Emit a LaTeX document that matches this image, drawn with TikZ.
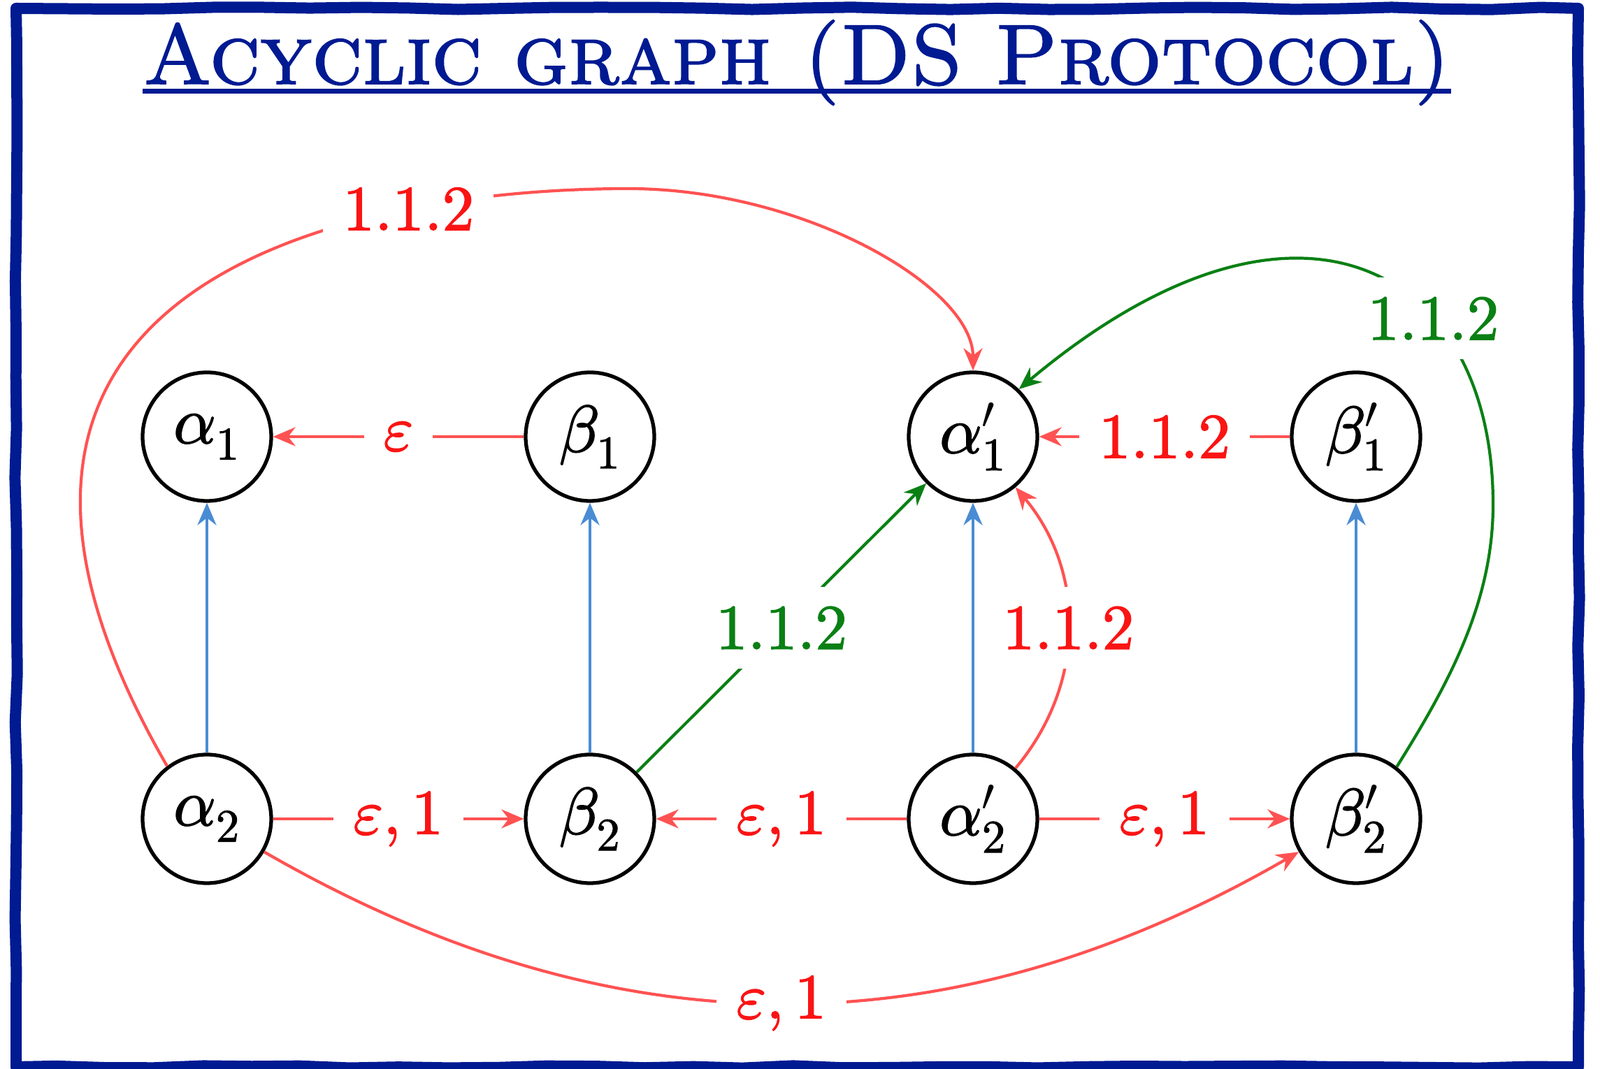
\RequirePackage{fix-cm}
\documentclass[tikz,border=0pt]{standalone}
\usepackage{unicode-math}
\setmathfont{latinmodern-math.otf}[FakeBold=1.6]
\DeclareSymbolFont{dscmsy}{OMS}{cmsy}{m}{n}
\DeclareMathSymbol{\dsprime}{\mathord}{dscmsy}{"30}
\newfontfamily\dstitlefont{lmromancaps10-regular.otf}[FakeBold=1.6]
\usetikzlibrary{
  arrows.meta,
  positioning,
  decorations.pathmorphing
}
\definecolor{dsTitle}{RGB}{0,26,146}
\definecolor{dsRed}{RGB}{255,82,82}
\definecolor{dsRedText}{RGB}{250,20,20}
\definecolor{dsBlue}{RGB}{74,140,212}
\definecolor{dsGreen}{RGB}{10,128,20}
\tikzset{
  dsnode/.style={
    circle,
    draw=black,
    line width=1.5pt,
    minimum size=18.4mm,
    inner sep=0pt,
    font=\fontsize{27}{30}\selectfont
  },
  dsedge/.style={
    -{Stealth[length=3.2mm,width=2.7mm]},
    line width=1.2pt
  },
  dsred/.style={dsedge, draw=dsRed},
  dsblue/.style={dsedge, draw=dsBlue},
  dsgreen/.style={dsedge, draw=dsGreen},
  dslabel/.style={
    fill=white,
    inner sep=8pt,
    font=\fontsize{26}{30}\selectfont
  },
  dsframe/.style={
    draw=dsTitle,
    line width=1.6mm,
    line join=round,
    decorate,
    decoration={random steps, segment length=20pt, amplitude=0.5pt}
  }
}

\begin{document}
\begin{tikzpicture}[node distance=5.47cm and 5.48cm, on grid]
  \useasboundingbox (0,0) rectangle (22.89,15.30);
  \draw[dsframe] (0.23,0.03) rectangle (22.58,15.18);

  \node[font=\dstitlefont\fontsize{34.6}{40}\selectfont, text=dsTitle, inner sep=0pt, anchor=base] (title)
    at (11.40,14.10) {Acyclic graph (DS Protocol)};
  \draw[dsTitle, line width=1.8pt] ([yshift=-3pt]title.base west) -- ([yshift=-3pt]title.base east);

  \node[dsnode] (a1) at (2.96,9.05) {$\alpha_1$};
  \node[dsnode, right=of a1] (b1) {$\beta_1$};
  \node[dsnode, right=of b1] (a1p) {$\alpha^{\dsprime}_1$};
  \node[dsnode, right=of a1p] (b1p) {$\beta^{\dsprime}_1$};
  \node[dsnode, below=of a1] (a2) {$\alpha_2$};
  \node[dsnode, right=of a2] (b2) {$\beta_2$};
  \node[dsnode, right=of b2] (a2p) {$\alpha^{\dsprime}_2$};
  \node[dsnode, right=of a2p] (b2p) {$\beta^{\dsprime}_2$};

  \foreach \lo/\hi in {a2/a1, b2/b1, a2p/a1p, b2p/b1p}
    \draw[dsblue] (\lo) -- (\hi);

  \draw[dsred] (b1) -- node[dslabel, text=dsRedText] {$\varepsilon$} (a1);
  \draw[dsred] (a2) -- node[dslabel, text=dsRedText] {$\varepsilon, 1$} (b2);
  \draw[dsred] (a2p) -- node[dslabel, text=dsRedText] {$\varepsilon, 1$} (b2);
  \draw[dsred] (a2p) -- node[dslabel, text=dsRedText] {$\varepsilon, 1$} (b2p);
  \draw[dsred] (b1p) -- node[dslabel, text=dsRedText] {$1.1.2$} (a1p);
  \draw[dsred] (a2p) to[bend right=40] node[dslabel, text=dsRedText] {$1.1.2$} (a1p);
  \draw[dsred] (a2) to[out=-30, in=-150] node[dslabel, text=dsRedText] {$\varepsilon, 1$} (b2p);

  % long arc over the top
  \coordinate (rtop) at (8.99,12.60);
  \draw[dsred] (a2.127) .. controls +(120:8) and +(-4,0) .. (rtop)
    node[dslabel, text=dsRedText, pos=0.76] {$1.1.2$}
    .. controls +(2.5,0) and +(0,1.2) .. (a1p.north);

  \draw[dsgreen] (b2) -- node[dslabel, text=dsGreen] {$1.1.2$} (a1p);
  \coordinate (gright) at (21.36,8.08);
  \draw[dsgreen] (b2p.52) .. controls +(58:1.4) and +(0,-1.4) .. (gright)
    .. controls +(0,3.4) and +(40:5.2) .. (a1p.46)
    node[dslabel, text=dsGreen, pos=0.33] {$1.1.2$};
\end{tikzpicture}
\end{document}
